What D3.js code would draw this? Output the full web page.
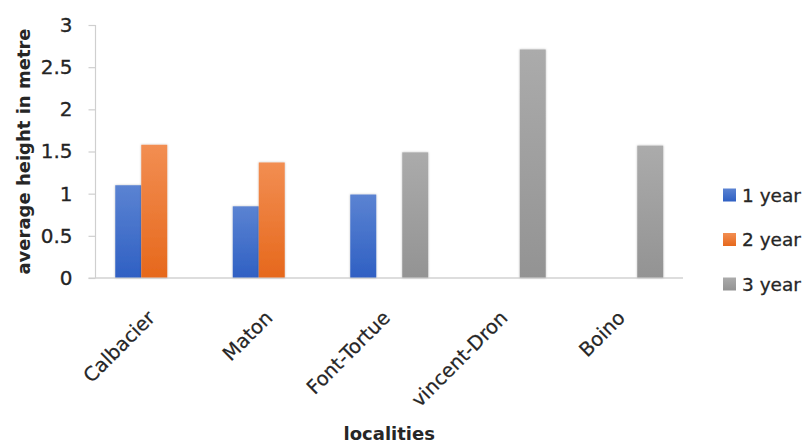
<!DOCTYPE html>
<html>
<head>
<meta charset="utf-8">
<script src="https://cdn.jsdelivr.net/npm/d3@7"></script>
<style>
  html, body { margin: 0; padding: 0; background: #fff; }
  svg { display: block; }
  text { font-family: "DejaVu Sans", sans-serif; fill: #262626; }
</style>
</head>
<body>
<svg id="chart" width="805" height="443"></svg>
<script>
// Average height (m) per locality and plant age
const localities = ["Calbacier", "Maton", "Font-Tortue", "vincent-Dron", "Boino"];
const seriesNames = ["1 year", "2 year", "3 year"];
const year1 = [1.10, 0.85, 0.99, null, null];
const year2 = [1.58, 1.37, null, null, null];
const year3 = [null, null, 1.49, 2.71, 1.57];
const yTicks = [0, 0.5, 1, 1.5, 2, 2.5, 3];

const seriesValues = [year1, year2, year3];
const colors = [
  { top: "#5b83d2", bottom: "#2f60c3" },
  { top: "#f28e52", bottom: "#e6681c" },
  { top: "#ababab", bottom: "#939393" }
];

const svg = d3.select("#chart");
const plot = { left: 95.5, right: 683, top: 25, bottom: 278 };

const x0 = d3.scaleBand().domain(localities).range([plot.left, plot.right]).paddingInner(0).paddingOuter(0);
const x1 = d3.scaleBand().domain(seriesNames).range([0, x0.bandwidth()]).paddingInner(0).paddingOuter(0.76);
const y = d3.scaleLinear().domain([0, 3]).range([plot.bottom, plot.top]);

// gradients + soft edge shadow for the bars
const defs = svg.append("defs");
seriesNames.forEach((s, i) => {
  const g = defs.append("linearGradient").attr("id", "grad" + i)
    .attr("x1", 0).attr("y1", 0).attr("x2", 0).attr("y2", 1);
  g.append("stop").attr("offset", "0%").attr("stop-color", colors[i].top);
  g.append("stop").attr("offset", "100%").attr("stop-color", colors[i].bottom);
});
const shadow = defs.append("filter").attr("id", "soft").attr("x", "-20%").attr("y", "-5%").attr("width", "140%").attr("height", "110%");
shadow.append("feDropShadow").attr("dx", 0).attr("dy", 0).attr("stdDeviation", 1.2)
  .attr("flood-color", "#000").attr("flood-opacity", 0.25);

// y axis
const yAxis = d3.axisLeft(y).tickValues(yTicks).tickSize(7).tickPadding(16).tickFormat(d3.format("~g"));
const yG = svg.append("g").attr("transform", `translate(${plot.left},0)`).call(yAxis);
yG.select(".domain").attr("stroke", "#cfcfcf").attr("stroke-width", 1.2);
yG.selectAll(".tick line").attr("stroke", "#cfcfcf").attr("stroke-width", 1.2);
yG.selectAll(".tick text").attr("font-size", 20).attr("fill", "#1e1e1e")
  .attr("stroke", "#1e1e1e").attr("stroke-width", 0.3)
  .style("font-family", "'DejaVu Sans', sans-serif");
yG.select(".domain").attr("d", `M0,${plot.top}V${plot.bottom}`);

// x axis baseline
svg.append("line")
  .attr("x1", plot.left - 7).attr("x2", plot.right)
  .attr("y1", y(0)).attr("y2", y(0))
  .attr("stroke", "#cfcfcf").attr("stroke-width", 1.2);

// bars
const bars = [];
localities.forEach((loc, li) => {
  seriesNames.forEach((s, si) => {
    const v = seriesValues[si][li];
    if (v !== null) bars.push({ loc, s, si, v });
  });
});
svg.append("g").selectAll("rect").data(bars).join("rect")
  .attr("x", d => x0(d.loc) + x1(d.s))
  .attr("width", x1.bandwidth())
  .attr("y", d => y(d.v))
  .attr("height", d => y(0) - y(d.v))
  .attr("fill", d => `url(#grad${d.si})`)
  .attr("filter", "url(#soft)");

// redraw baseline on top of bar shadows
svg.append("line")
  .attr("x1", plot.left).attr("x2", plot.right)
  .attr("y1", y(0)).attr("y2", y(0))
  .attr("stroke", "#d4d4d4").attr("stroke-width", 1.2);

// category labels, rotated
svg.append("g").selectAll("text").data(localities).join("text")
  .attr("transform", d => `translate(${x0(d) + x0.bandwidth() / 2 + 2},319) rotate(-45)`)
  .attr("text-anchor", "end")
  .attr("font-size", 19.5)
  .attr("stroke", "#262626").attr("stroke-width", 0.25)
  .text(d => d);

// axis titles
svg.append("text")
  .attr("transform", `translate(30,${(plot.top + plot.bottom) / 2}) rotate(-90)`)
  .attr("text-anchor", "middle")
  .attr("font-size", 18).attr("font-weight", "bold")
  .text("average height in metre");

svg.append("text")
  .attr("x", (plot.left + plot.right) / 2).attr("y", 440)
  .attr("text-anchor", "middle")
  .attr("font-size", 18).attr("font-weight", "bold")
  .text("localities");

// legend
const legend = svg.append("g").attr("transform", "translate(723,195)");
const li = legend.selectAll("g").data(seriesNames).join("g")
  .attr("transform", (d, i) => `translate(0,${i * 44.5})`);
li.append("rect").attr("x", 0).attr("y", -6.5).attr("width", 13).attr("height", 13)
  .attr("fill", (d, i) => `url(#grad${i})`);
li.append("text").attr("x", 19).attr("y", 0).attr("dy", "0.36em")
  .attr("font-size", 18.5)
  .attr("stroke", "#262626").attr("stroke-width", 0.3)
  .text(d => d);
</script>
</body>
</html>
